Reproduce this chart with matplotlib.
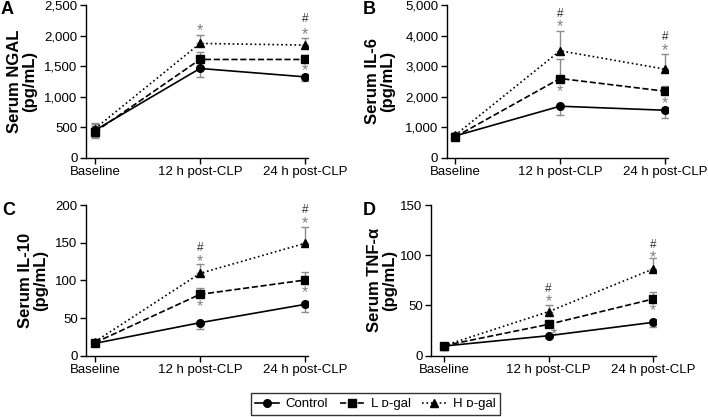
import matplotlib
matplotlib.use("Agg")
import matplotlib.pyplot as plt
from matplotlib.ticker import FuncFormatter
from matplotlib.lines import Line2D

plt.rcParams['font.family'] = ['Liberation Sans', 'DejaVu Sans']

categories = ["Baseline", "12 h post-CLP", "24 h post-CLP"]
groups = ["Control", "L \u1d05-gal", "H \u1d05-gal"]

# NGAL
ngal_ctrl = [453, 1463, 1326]
ngal_low = [426, 1610, 1610]
ngal_high = [480, 1872, 1845]
ngal_ctrl_err = [110, 140, 60]
ngal_low_err = [100, 125, 70]
ngal_high_err = [90, 135, 120]

# IL-6
il6_ctrl = [720, 1692, 1561]
il6_low = [688, 2598, 2183]
il6_high = [742, 3504, 2904]
il6_ctrl_err = [90, 295, 270]
il6_low_err = [80, 650, 175]
il6_high_err = [80, 655, 510]

# IL-10
il10_ctrl = [16.4, 43.8, 68.1]
il10_low = [17.3, 81.4, 100.4]
il10_high = [18.6, 109.3, 149.1]
il10_ctrl_err = [2, 8, 10]
il10_low_err = [2, 9, 11]
il10_high_err = [2, 13, 22]

# TNF-alpha
tnf_ctrl = [9.6, 19.9, 33.2]
tnf_low = [10.0, 31.2, 56.4]
tnf_high = [10.0, 43.8, 86.3]
tnf_ctrl_err = [1, 1.5, 5]
tnf_low_err = [1, 2, 7]
tnf_high_err = [1, 6.6, 10.6]

# significance marks: (category index, y, symbol)
ngal_marks = [(1, 2130, "*"), (2, 2265, "#"), (2, 2080, "*"), (2, 1490, "*")]
il6_marks = [(1, 4720, "#"), (1, 4400, "*"), (1, 2270, "*"),
             (2, 3960, "#"), (2, 3635, "*"), (2, 1890, "*")]
il10_marks = [(1, 143, "#"), (1, 130, "*"), (1, 69.5, "*"),
              (2, 193, "#"), (2, 180, "*"), (2, 88, "*")]
tnf_marks = [(1, 66.4, "#"), (1, 57, "*"), (1.05, 24.6, "*"),
             (2, 110, "#"), (2, 101, "*"), (2, 48.8, "*")]

panels = [
    dict(letter="A", ylabel="Serum NGAL\n(pg/mL)", ymax=2500, yticks=[0, 500, 1000, 1500, 2000, 2500],
         data=(ngal_ctrl, ngal_low, ngal_high), err=(ngal_ctrl_err, ngal_low_err, ngal_high_err),
         marks=ngal_marks, px=(86, 5, 158), base=95, sp=105, lab=37, let=(1, 1)),
    dict(letter="B", ylabel="Serum IL-6\n(pg/mL)", ymax=5000, yticks=[0, 1000, 2000, 3000, 4000, 5000],
         data=(il6_ctrl, il6_low, il6_high), err=(il6_ctrl_err, il6_low_err, il6_high_err),
         marks=il6_marks, px=(446.7, 5, 158), base=455, sp=105, lab=395, let=(363, 1)),
    dict(letter="C", ylabel="Serum IL-10\n(pg/mL)", ymax=200, yticks=[0, 50, 100, 150, 200],
         data=(il10_ctrl, il10_low, il10_high), err=(il10_ctrl_err, il10_low_err, il10_high_err),
         marks=il10_marks, px=(86, 205, 355.7), base=95, sp=105, lab=48, let=(2, 202)),
    dict(letter="D", ylabel="Serum TNF-\u03b1\n(pg/mL)", ymax=150, yticks=[0, 50, 100, 150],
         data=(tnf_ctrl, tnf_low, tnf_high), err=(tnf_ctrl_err, tnf_low_err, tnf_high_err),
         marks=tnf_marks, px=(431, 205, 355.7), base=444, sp=104.5, lab=397, let=(363, 202)),
]

W, H = 708, 417
fig = plt.figure(figsize=(W / 100, H / 100), dpi=100)

styles = [dict(ls="-", marker="o"), dict(ls="--", marker="s"), dict(ls=":", marker="^")]
xs = [0, 1, 2]

for p in panels:
    left, top, bottom = p["px"]
    xmin = -(p["base"] - left) / p["sp"]
    xmax = 2.03
    right = p["base"] + xmax * p["sp"]
    ax = fig.add_axes([left / W, 1 - bottom / H, (right - left) / W, (bottom - top) / H])
    for i, (vals, errs, st) in enumerate(zip(p["data"], p["err"], styles)):
        if i == 0:
            yerr = [[errs[0], errs[1], errs[2]], [errs[0], 0, 0]]
        else:
            yerr = [[errs[0], 0, 0], [errs[0], errs[1], errs[2]]]
        ax.errorbar(xs, vals, yerr=yerr, fmt="none", ecolor="#8c8c8c", elinewidth=1.0,
                    capsize=3, capthick=1.0, zorder=1)
        ax.plot(xs, vals, color="black", lw=1.2, ls=st["ls"], marker=st["marker"],
                markersize=5.5 if st["marker"] != "^" else 6, zorder=3)
    for (xi, yv, sym) in p["marks"]:
        if sym == "*":
            ax.annotate(sym, (xi, yv), xytext=(0, -2.5), textcoords="offset points",
                        ha="center", va="center", fontsize=11.5, color="#808080", zorder=4)
        else:
            ax.annotate(sym, (xi, yv), ha="center", va="center", fontsize=8.5,
                        color="#333333", zorder=4)
    ax.set_xlim(xmin, xmax)
    ax.set_ylim(0, p["ymax"])
    ax.set_yticks(p["yticks"])
    ax.yaxis.set_major_formatter(FuncFormatter(lambda v, pos: f"{int(v):,}"))
    ax.set_xticks(xs)
    ax.set_xticklabels(categories)
    ax.spines["top"].set_visible(False)
    ax.spines["right"].set_visible(False)
    for s in ("left", "bottom"):
        ax.spines[s].set_linewidth(1.0)
    ax.tick_params(axis="both", direction="out", length=4, width=1.0, labelsize=9.5, pad=2)
    ax.set_ylabel(p["ylabel"], fontsize=12, fontweight="bold", linespacing=1.0)
    ax.yaxis.set_label_coords((p["lab"] - left) / (right - left), 0.5)
    fig.text(p["let"][0] / W, 1 - p["let"][1] / H, p["letter"], fontsize=13,
             fontweight="bold", ha="left", va="top")

handles = [Line2D([], [], color="black", lw=1.2, ls=st["ls"], marker=st["marker"], markersize=5.5)
           for st in styles]
fig.legend(handles, groups, loc="center", bbox_to_anchor=(375.5 / W, 1 - 404 / H), ncol=3,
           frameon=True, fancybox=False, edgecolor="black", fontsize=9.5, handlelength=1.8,
           handletextpad=0.5, columnspacing=0.9, borderpad=0.35)

fig.savefig("out.png", dpi=100)
